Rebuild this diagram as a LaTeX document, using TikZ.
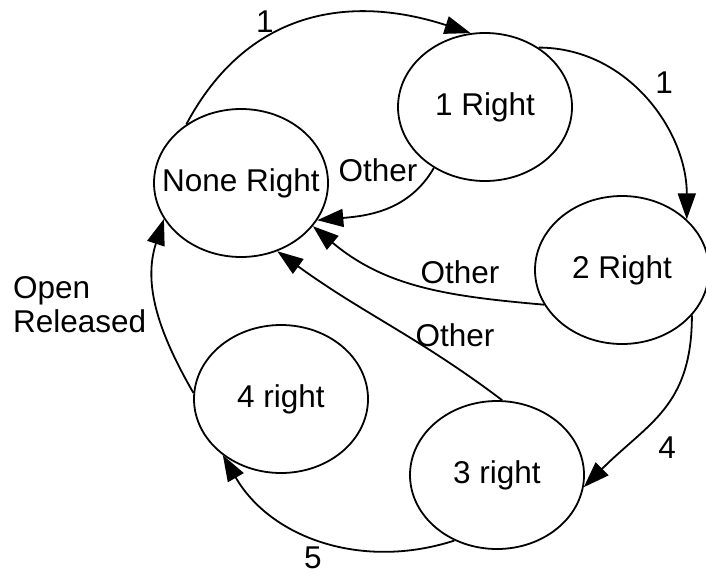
\documentclass[tikz,border=0pt]{standalone}
\usepackage{fontspec}
\setmainfont{Liberation Sans}
\usetikzlibrary{shapes.geometric,arrows.meta}

\begin{document}
\begin{tikzpicture}[x=1pt,y=1pt,
  every node/.style={inner sep=0pt,font=\fontsize{31.5}{34}\selectfont},
  stnode/.style={draw,ellipse,line width=1.8pt,minimum width=174pt,minimum height=148pt},
  trans/.style={line width=1.8pt,-{Triangle[length=26pt,width=18pt]}}]
\useasboundingbox (0,0) rectangle (706,-576);
% states
\node [stnode,label=center:None Right] (none) at (241,-183) {};
\node [stnode,label=center:1 Right] (one) at (485,-107) {};
\node [stnode,label=center:2 Right] (two) at (622,-270) {};
\node [stnode,label=center:3 right] (three) at (497,-475) {};
\node [stnode,label=center:4 right] (four) at (281,-399) {};
% transitions
\draw [trans] (none.133) to[out=62,in=162,looseness=1.1] (one.101);
\draw [trans] (one.48) to[out=0,in=90] (two.38);
\draw [trans] (one.230) to[out=-120,in=5] (none.-26);
\draw [trans] (two.204) to[out=175,in=-40] (none.-31);
\draw [trans] (three.86) to[out=143,in=-36] (none.-62);
\draw [trans] (two.-33) to[out=-90,in=45,looseness=1.15] (three.-8);
\draw [trans] (three.237) to[out=198,in=-60] (four.224);
\draw [trans] (four.176) to[out=120,in=-108] (none.205);
% labels
\node (lbone) at (265,-22) {1};
\node (lbtwo) at (664,-83) {1};
\node (lbothA) at (378,-170) {Other};
\node (lbothB) at (460,-272) {Other};
\node (lbothC) at (455,-335) {Other};
\node (lbfour) at (667,-448) {4};
\node (lbfive) at (313,-558) {5};
\node [align=left,anchor=west] (lbopen) at (13,-305) {Open\\Released};
\end{tikzpicture}
\end{document}
